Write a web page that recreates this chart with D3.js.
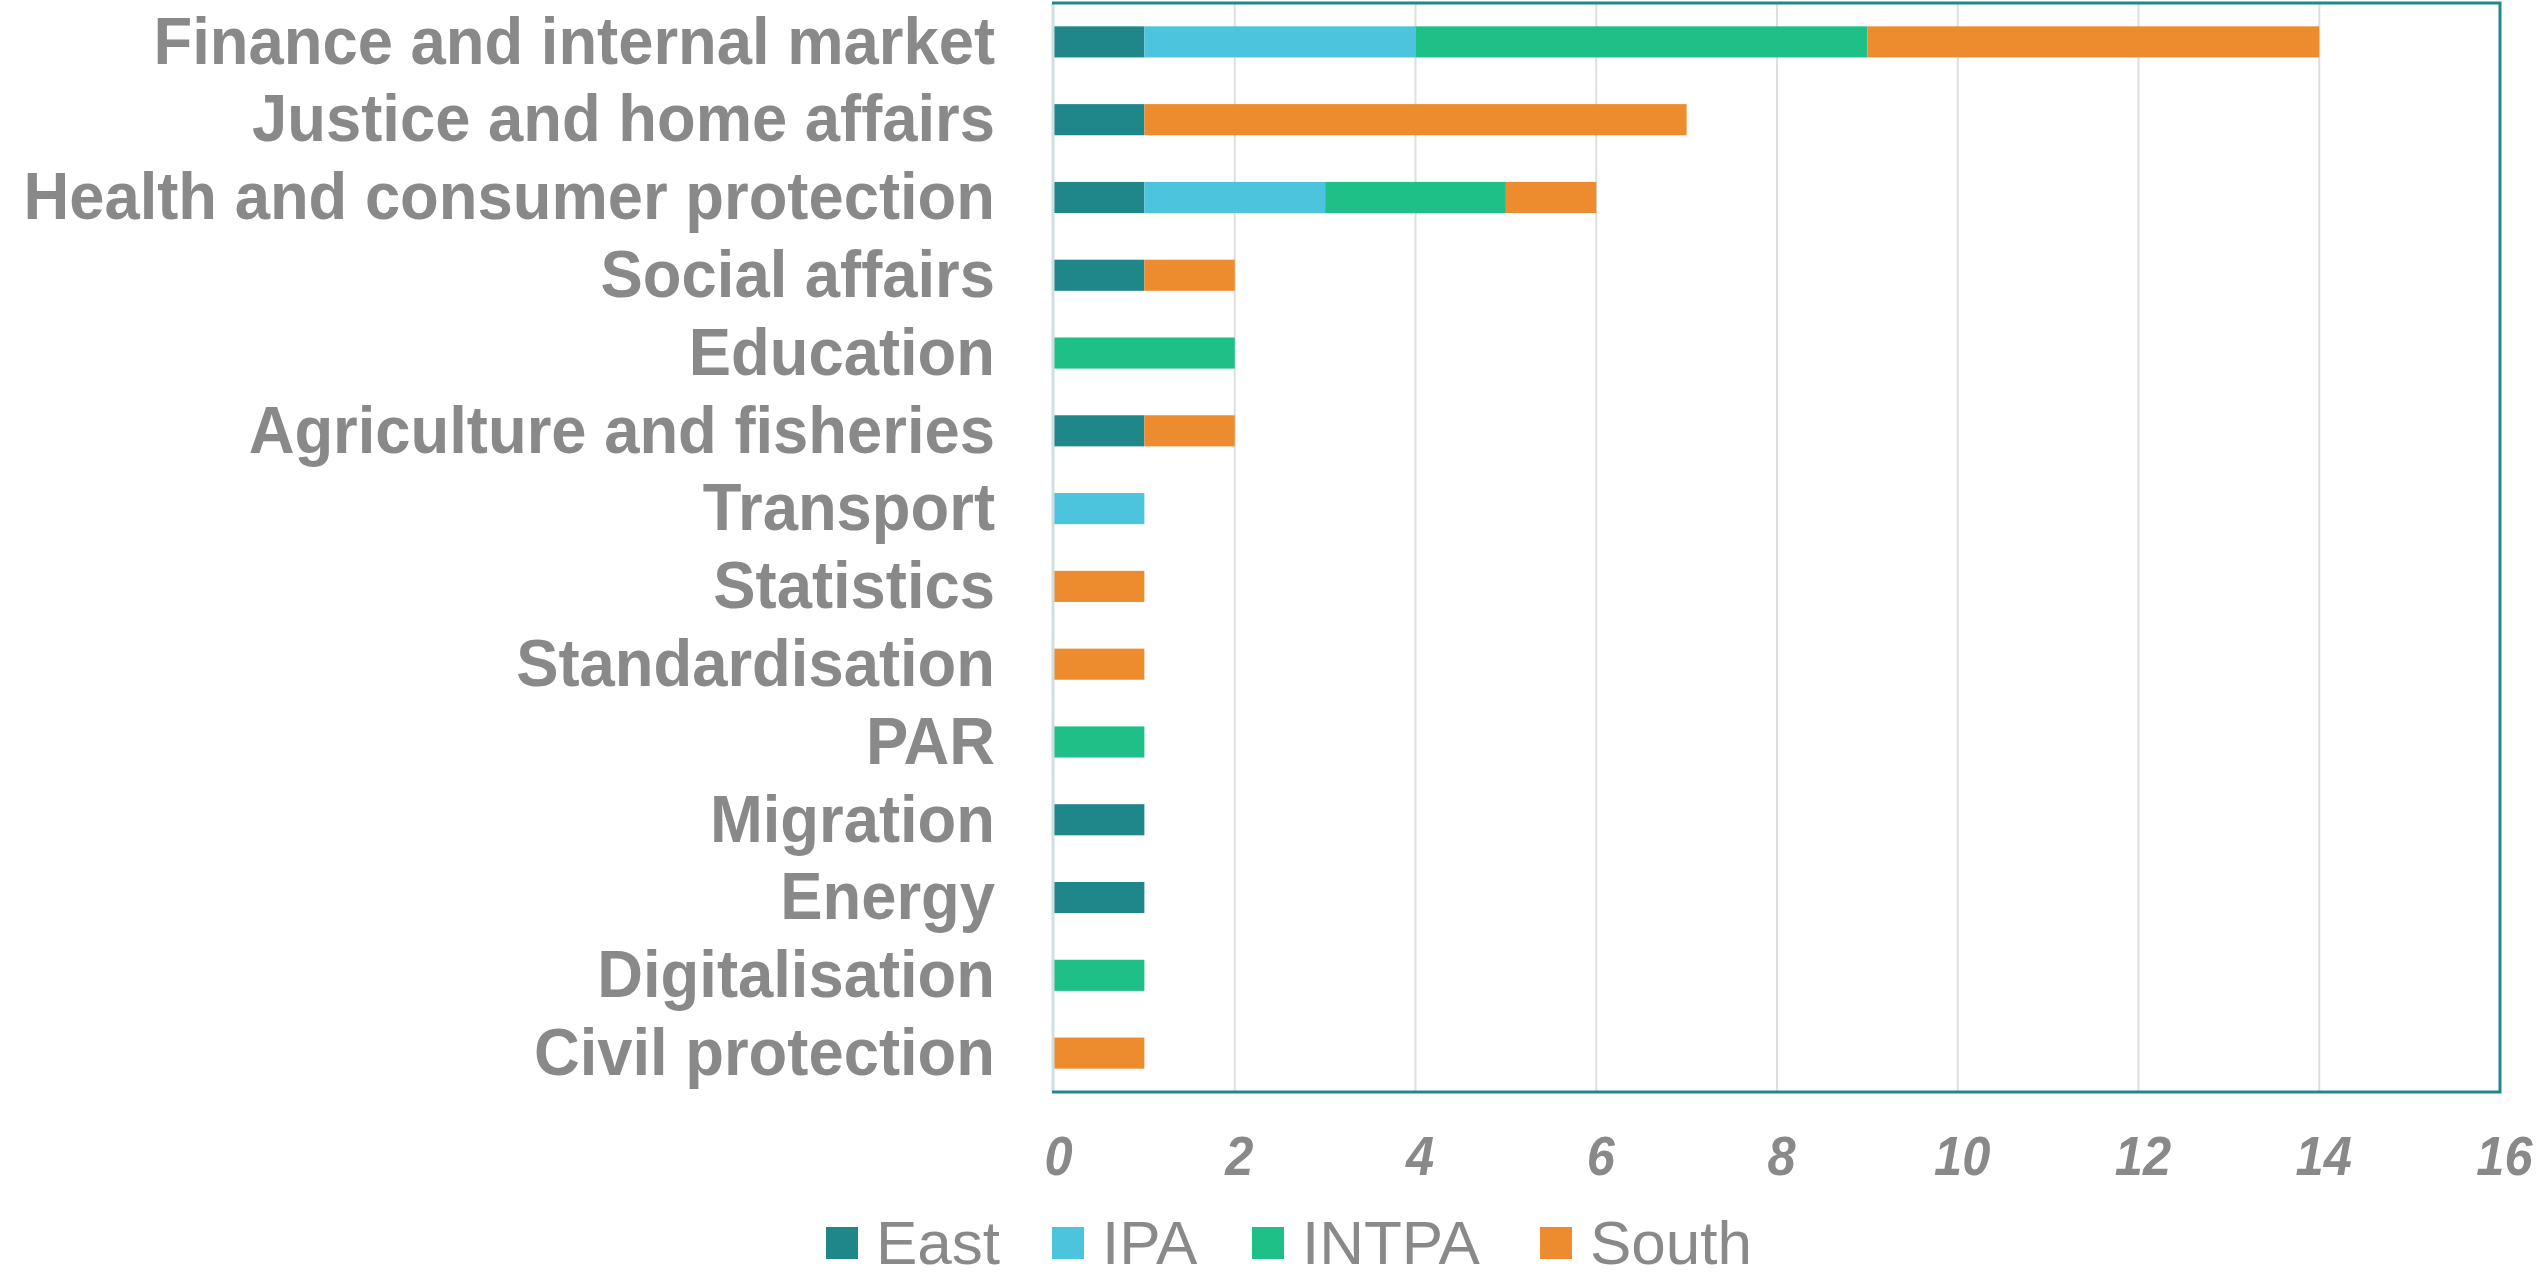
<!DOCTYPE html>
<html>
<head>
<meta charset="utf-8">
<script src="https://cdn.jsdelivr.net/npm/d3@7"></script>
<style>
  html, body { margin: 0; padding: 0; background: #ffffff; }
  svg { display: block; }
</style>
</head>
<body>
<svg id="chart" width="2544" height="1277"></svg>
<script>
// ---- Data ----
const categories = [
  "Finance and internal market",
  "Justice and home affairs",
  "Health and consumer protection",
  "Social affairs",
  "Education",
  "Agriculture and fisheries",
  "Transport",
  "Statistics",
  "Standardisation",
  "PAR",
  "Migration",
  "Energy",
  "Digitalisation",
  "Civil protection"
];
const seriesNames = ["East", "IPA", "INTPA", "South"];
const eastValues  = [1, 1, 1, 1, 0, 1, 0, 0, 0, 0, 1, 1, 0, 0];
const ipaValues   = [3, 0, 2, 0, 0, 0, 1, 0, 0, 0, 0, 0, 0, 0];
const intpaValues = [5, 0, 2, 0, 2, 0, 0, 0, 0, 1, 0, 0, 1, 0];
const southValues = [5, 6, 1, 1, 0, 1, 0, 1, 1, 0, 0, 0, 0, 1];
const xTicks = [0, 2, 4, 6, 8, 10, 12, 14, 16];

// ---- Styles ----
const colors = { East: "#1F868A", IPA: "#4CC4DE", INTPA: "#1FBF88", South: "#ED8C2F" };
const textColor = "#898989";
const fontFamily = "'Liberation Sans', Arial, sans-serif";

const svg = d3.select("#chart");
const plot = { left: 1054, right: 2500, top: 3, bottom: 1092 };

const x = d3.scaleLinear().domain([0, 16]).range([plot.left, plot.right]);
const y = d3.scaleBand().domain(categories).range([plot.top, plot.bottom])
  .paddingInner(0.6).paddingOuter(0.3);

// table for stacking
const table = categories.map((c, i) => ({
  category: c, East: eastValues[i], IPA: ipaValues[i], INTPA: intpaValues[i], South: southValues[i]
}));
const stacked = d3.stack().keys(seriesNames)(table);

// gridlines
svg.append("g").selectAll("line").data(xTicks.slice(1, -1)).join("line")
  .attr("x1", d => x(d)).attr("x2", d => x(d))
  .attr("y1", plot.top).attr("y2", plot.bottom)
  .attr("stroke", "#DEDEDE").attr("stroke-width", 2);

// bars
svg.append("g").selectAll("g").data(stacked).join("g")
  .attr("fill", d => colors[d.key])
  .selectAll("rect").data(d => d.filter(s => s[1] - s[0] > 0)).join("rect")
  .attr("x", d => x(d[0]))
  .attr("width", d => x(d[1]) - x(d[0]))
  .attr("y", d => y(d.data.category))
  .attr("height", y.bandwidth());

// frame
svg.append("line").attr("x1", plot.left - 1).attr("x2", plot.left - 1)
  .attr("y1", plot.top).attr("y2", plot.bottom)
  .attr("stroke", "#CFDFDF").attr("stroke-width", 3);
svg.append("path")
  .attr("d", `M${plot.left - 2},${plot.top} H${plot.right} V${plot.bottom} H${plot.left - 2}`)
  .attr("fill", "none").attr("stroke", "#22878B").attr("stroke-width", 3);

// y axis (category labels)
const yAxis = svg.append("g").attr("transform", "translate(995,0)")
  .call(d3.axisLeft(y).tickSize(0).tickPadding(0));
yAxis.select(".domain").remove();
yAxis.selectAll("text")
  .attr("x", 0).attr("dy", "0.33em")
  .attr("transform", "scale(0.96,1)")
  .style("font-family", fontFamily).style("font-weight", "bold")
  .style("font-size", "66px").attr("fill", textColor);

// x axis
const xAxis = svg.append("g").attr("transform", `translate(0,${plot.bottom})`)
  .call(d3.axisBottom(x).tickValues(xTicks).tickSize(0).tickFormat(d3.format("d")));
xAxis.select(".domain").remove();
xAxis.selectAll("text")
  .attr("y", 83).attr("dy", 0)
  .attr("transform", "translate(4,0) scale(0.92,1)")
  .style("font-family", fontFamily).style("font-weight", "bold").style("font-style", "italic")
  .style("font-size", "55px").attr("fill", textColor);

// legend
const legendX = [826, 1052, 1252, 1540];
const legendY = 1243;
const legend = svg.append("g").selectAll("g").data(seriesNames).join("g")
  .attr("transform", (d, i) => `translate(${legendX[i]},${legendY})`);
legend.append("rect").attr("x", 0).attr("y", -16)
  .attr("width", 32).attr("height", 32).attr("fill", d => colors[d]);
legend.append("text").attr("x", 50).attr("y", 21)
  .style("font-family", fontFamily).style("font-size", "62px")
  .attr("fill", textColor).text(d => d);
</script>
</body>
</html>
